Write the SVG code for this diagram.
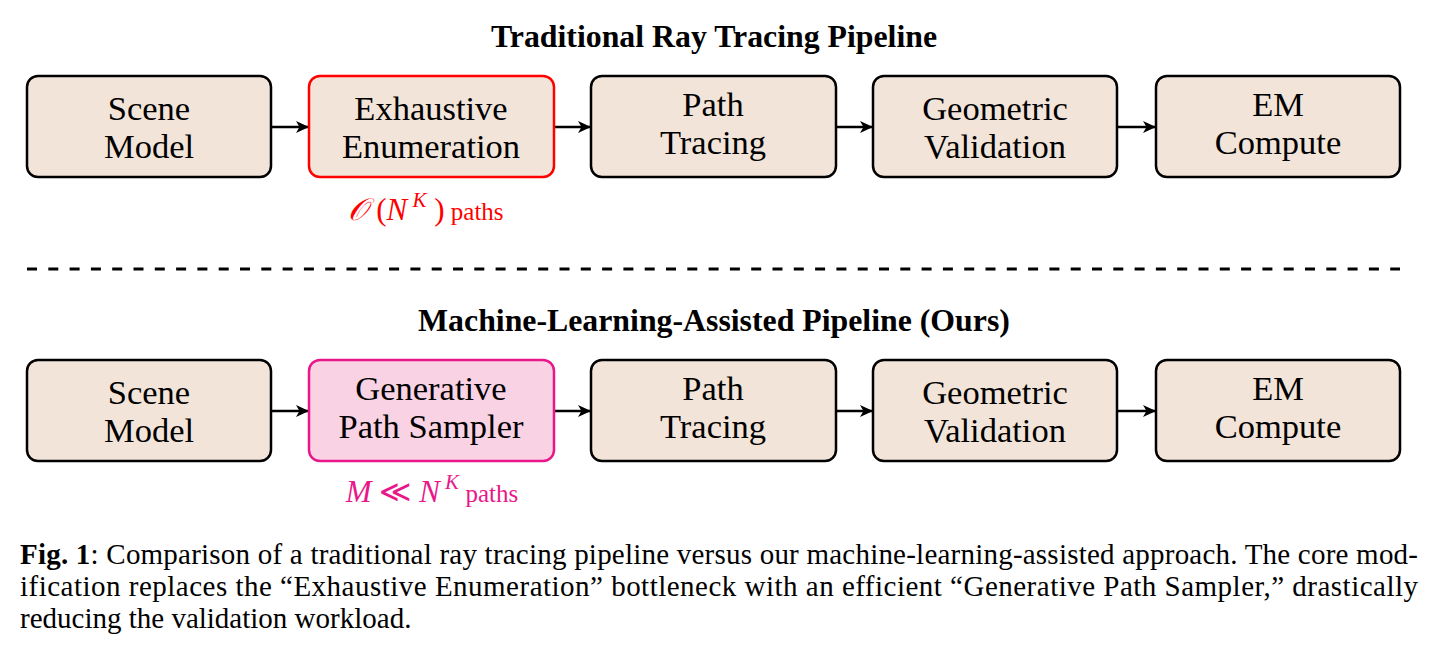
<svg xmlns="http://www.w3.org/2000/svg" width="1435" height="653" viewBox="0 0 1435 653">
<style>
  .box{fill:#f2e4d8;stroke:#000;stroke-width:2.5}
  .red{fill:#f2e4d8;stroke:#ff0000;stroke-width:2.5}
  .pink{fill:#f9d3e4;stroke:#e8178a;stroke-width:2.5}
  .lbl{font-family:"Liberation Serif","Times New Roman",serif;font-size:34.5px;fill:#000;text-anchor:middle}
  .title{font-family:"Liberation Serif","Times New Roman",serif;font-size:31.8px;font-weight:bold;fill:#000;text-anchor:middle}
  .cap{font-family:"Liberation Serif","Times New Roman",serif;font-size:29px;fill:#000}
  .math{font-family:"Liberation Serif","DejaVu Serif",serif;font-size:31px;text-anchor:middle}
  .conn{stroke:#000;stroke-width:2.5;fill:none;marker-end:url(#ah)}
</style>
<defs>
  <marker id="ah" markerWidth="14" markerHeight="12" refX="12" refY="6" orient="auto" markerUnits="userSpaceOnUse">
    <path d="M0,0 L13,6 L0,12 L3.5,6 Z" fill="#000"/>
  </marker>
</defs>
<rect width="1435" height="653" fill="#fff"/>

<text class="title" x="714" y="47">Traditional Ray Tracing Pipeline</text>
<text class="title" x="714" y="331">Machine-Learning-Assisted Pipeline (Ours)</text>

<g id="connectors">
  <line class="conn" x1="271" y1="127" x2="308" y2="127"/>
  <line class="conn" x1="554" y1="127" x2="590" y2="127"/>
  <line class="conn" x1="836" y1="127" x2="872" y2="127"/>
  <line class="conn" x1="1117" y1="127" x2="1155" y2="127"/>
  <line class="conn" x1="271" y1="411" x2="308" y2="411"/>
  <line class="conn" x1="554" y1="411" x2="590" y2="411"/>
  <line class="conn" x1="836" y1="411" x2="872" y2="411"/>
  <line class="conn" x1="1117" y1="411" x2="1155" y2="411"/>
</g>

<g id="t1"><rect class="box" x="27" y="76" width="244" height="101" rx="11"/><text class="lbl" x="149" y="120">Scene</text><text class="lbl" x="149" y="158">Model</text></g>
<g id="t2"><rect class="red" x="309" y="76" width="245" height="101" rx="11"/><text class="lbl" x="431" y="120">Exhaustive</text><text class="lbl" x="431" y="158">Enumeration</text></g>
<g id="t3"><rect class="box" x="591" y="76" width="245" height="101" rx="11"/><text class="lbl" x="713" y="116">Path</text><text class="lbl" x="713" y="154">Tracing</text></g>
<g id="t4"><rect class="box" x="873" y="76" width="244" height="101" rx="11"/><text class="lbl" x="995" y="120">Geometric</text><text class="lbl" x="995" y="158">Validation</text></g>
<g id="t5"><rect class="box" x="1156" y="76" width="244" height="101" rx="11"/><text class="lbl" x="1278" y="116">EM</text><text class="lbl" x="1278" y="154">Compute</text></g>

<g id="note1"><text class="math" x="426" y="220" fill="#ff0000"><tspan font-style="italic">𝒪</tspan> (<tspan font-style="italic">N</tspan><tspan font-style="italic" font-size="21" dy="-13"> K</tspan><tspan dy="13"> )</tspan><tspan font-size="25"> paths</tspan></text></g>

<line x1="27" y1="269" x2="1400" y2="269" stroke="#000" stroke-width="3" stroke-dasharray="10,11.3"/>

<g id="b1"><rect class="box" x="27" y="360" width="244" height="101" rx="11"/><text class="lbl" x="149" y="404">Scene</text><text class="lbl" x="149" y="442">Model</text></g>
<g id="b2"><rect class="pink" x="309" y="360" width="245" height="101" rx="11"/><text class="lbl" x="431" y="400">Generative</text><text class="lbl" x="431" y="438">Path Sampler</text></g>
<g id="b3"><rect class="box" x="591" y="360" width="245" height="101" rx="11"/><text class="lbl" x="713" y="400">Path</text><text class="lbl" x="713" y="438">Tracing</text></g>
<g id="b4"><rect class="box" x="873" y="360" width="244" height="101" rx="11"/><text class="lbl" x="995" y="404">Geometric</text><text class="lbl" x="995" y="442">Validation</text></g>
<g id="b5"><rect class="box" x="1156" y="360" width="244" height="101" rx="11"/><text class="lbl" x="1278" y="400">EM</text><text class="lbl" x="1278" y="438">Compute</text></g>

<g id="note2"><text class="math" x="432" y="502" fill="#e8178a"><tspan font-style="italic">M</tspan>  ≪  <tspan font-style="italic">N</tspan><tspan font-style="italic" font-size="21" dy="-13"> K</tspan><tspan font-size="25" dy="13"> paths</tspan></text></g>

<text class="cap" x="20" y="564" textLength="1398" lengthAdjust="spacing"><tspan font-weight="bold">Fig. 1</tspan>: Comparison of a traditional ray tracing pipeline versus our machine-learning-assisted approach. The core mod-</text>
<text class="cap" x="20" y="596" textLength="1398" lengthAdjust="spacing">ification replaces the “Exhaustive Enumeration” bottleneck with an efficient “Generative Path Sampler,” drastically</text>
<text class="cap" x="20" y="628">reducing the validation workload.</text>
</svg>
